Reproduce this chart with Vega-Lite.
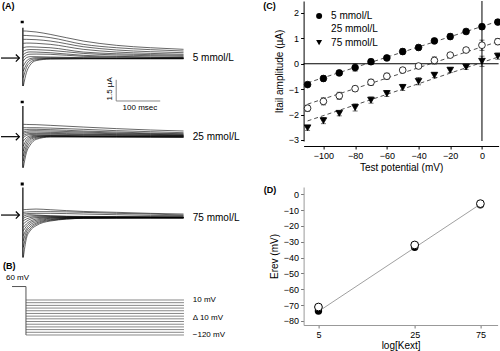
{
"$schema":"https://vega.github.io/schema/vega-lite/v6.json",
"padding":0,
"config":{"view":{"stroke":null},"font":"Liberation Sans","axis":{"grid":false,"labelColor":"black","titleColor":"black","titleFontWeight":"normal","labelFontSize":9,"titleFontSize":10,"tickCount":30},"text":{"color":"black"}},
"datasets":{
"tr":[
{"c":5,"k":1,"t":1,"i":-0.79},{"c":5,"k":1,"t":8,"i":-0.80},{"c":5,"k":1,"t":16,"i":-0.83},{"c":5,"k":1,"t":30,"i":-0.88},{"c":5,"k":1,"t":62,"i":-1.09},{"c":5,"k":1,"t":137,"i":-1.68},{"c":5,"k":1,"t":213,"i":-2.06},{"c":5,"k":1,"t":290,"i":-2.27},{"c":5,"k":1,"t":365,"i":-2.41},
{"c":5,"k":2,"t":1,"i":-1.18},{"c":5,"k":2,"t":8,"i":-1.19},{"c":5,"k":2,"t":16,"i":-1.21},{"c":5,"k":2,"t":30,"i":-1.24},{"c":5,"k":2,"t":62,"i":-1.38},{"c":5,"k":2,"t":137,"i":-1.97},{"c":5,"k":2,"t":213,"i":-2.27},{"c":5,"k":2,"t":290,"i":-2.44},{"c":5,"k":2,"t":365,"i":-2.56},
{"c":5,"k":3,"t":1,"i":-1.53},{"c":5,"k":3,"t":8,"i":-1.53},{"c":5,"k":3,"t":16,"i":-1.54},{"c":5,"k":3,"t":30,"i":-1.56},{"c":5,"k":3,"t":62,"i":-1.68},{"c":5,"k":3,"t":137,"i":-2.18},{"c":5,"k":3,"t":213,"i":-2.47},{"c":5,"k":3,"t":290,"i":-2.62},{"c":5,"k":3,"t":365,"i":-2.71},
{"c":5,"k":4,"t":1,"i":-1.88},{"c":5,"k":4,"t":8,"i":-1.86},{"c":5,"k":4,"t":16,"i":-1.86},{"c":5,"k":4,"t":30,"i":-1.88},{"c":5,"k":4,"t":62,"i":-1.97},{"c":5,"k":4,"t":137,"i":-2.41},{"c":5,"k":4,"t":213,"i":-2.65},{"c":5,"k":4,"t":290,"i":-2.77},{"c":5,"k":4,"t":365,"i":-2.85},
{"c":5,"k":5,"t":1,"i":-2.27},{"c":5,"k":5,"t":8,"i":-2.20},{"c":5,"k":5,"t":16,"i":-2.19},{"c":5,"k":5,"t":30,"i":-2.21},{"c":5,"k":5,"t":62,"i":-2.27},{"c":5,"k":5,"t":137,"i":-2.65},{"c":5,"k":5,"t":213,"i":-2.80},{"c":5,"k":5,"t":290,"i":-2.88},{"c":5,"k":5,"t":365,"i":-2.94},
{"c":5,"k":6,"t":1,"i":-2.59},{"c":5,"k":6,"t":8,"i":-2.46},{"c":5,"k":6,"t":16,"i":-2.43},{"c":5,"k":6,"t":30,"i":-2.44},{"c":5,"k":6,"t":62,"i":-2.50},{"c":5,"k":6,"t":137,"i":-2.77},{"c":5,"k":6,"t":213,"i":-2.91},{"c":5,"k":6,"t":290,"i":-2.97},{"c":5,"k":6,"t":365,"i":-3.03},
{"c":5,"k":7,"t":1,"i":-2.88},{"c":5,"k":7,"t":8,"i":-2.70},{"c":5,"k":7,"t":16,"i":-2.64},{"c":5,"k":7,"t":30,"i":-2.65},{"c":5,"k":7,"t":62,"i":-2.71},{"c":5,"k":7,"t":137,"i":-2.94},{"c":5,"k":7,"t":213,"i":-3.03},{"c":5,"k":7,"t":290,"i":-3.09},{"c":5,"k":7,"t":365,"i":-3.12},
{"c":5,"k":8,"t":1,"i":-3.15},{"c":5,"k":8,"t":8,"i":-2.92},{"c":5,"k":8,"t":16,"i":-2.84},{"c":5,"k":8,"t":30,"i":-2.83},{"c":5,"k":8,"t":62,"i":-2.85},{"c":5,"k":8,"t":137,"i":-3.03},{"c":5,"k":8,"t":213,"i":-3.09},{"c":5,"k":8,"t":290,"i":-3.12},{"c":5,"k":8,"t":365,"i":-3.15},
{"c":5,"k":9,"t":1,"i":-3.44},{"c":5,"k":9,"t":8,"i":-3.15},{"c":5,"k":9,"t":16,"i":-3.06},{"c":5,"k":9,"t":30,"i":-3.06},{"c":5,"k":9,"t":62,"i":-3.09},{"c":5,"k":9,"t":137,"i":-3.15},{"c":5,"k":9,"t":213,"i":-3.17},{"c":5,"k":9,"t":290,"i":-3.18},{"c":5,"k":9,"t":365,"i":-3.18},
{"c":5,"k":10,"t":1,"i":-3.88},{"c":5,"k":10,"t":8,"i":-3.44},{"c":5,"k":10,"t":16,"i":-3.24},{"c":5,"k":10,"t":30,"i":-3.15},{"c":5,"k":10,"t":62,"i":-3.15},{"c":5,"k":10,"t":137,"i":-3.18},{"c":5,"k":10,"t":213,"i":-3.20},{"c":5,"k":10,"t":290,"i":-3.21},{"c":5,"k":10,"t":365,"i":-3.21},
{"c":5,"k":11,"t":1,"i":-4.33},{"c":5,"k":11,"t":8,"i":-3.74},{"c":5,"k":11,"t":16,"i":-3.38},{"c":5,"k":11,"t":30,"i":-3.24},{"c":5,"k":11,"t":62,"i":-3.21},{"c":5,"k":11,"t":137,"i":-3.21},{"c":5,"k":11,"t":213,"i":-3.21},{"c":5,"k":11,"t":290,"i":-3.21},{"c":5,"k":11,"t":365,"i":-3.21},
{"c":5,"k":12,"t":1,"i":-4.91},{"c":5,"k":12,"t":8,"i":-4.03},{"c":5,"k":12,"t":16,"i":-3.59},{"c":5,"k":12,"t":30,"i":-3.33},{"c":5,"k":12,"t":62,"i":-3.24},{"c":5,"k":12,"t":137,"i":-3.24},{"c":5,"k":12,"t":213,"i":-3.24},{"c":5,"k":12,"t":290,"i":-3.24},{"c":5,"k":12,"t":365,"i":-3.24},
{"c":5,"k":13,"t":1,"i":-5.65},{"c":5,"k":13,"t":8,"i":-4.47},{"c":5,"k":13,"t":16,"i":-3.82},{"c":5,"k":13,"t":30,"i":-3.41},{"c":5,"k":13,"t":62,"i":-3.27},{"c":5,"k":13,"t":137,"i":-3.24},{"c":5,"k":13,"t":213,"i":-3.24},{"c":5,"k":13,"t":290,"i":-3.24},{"c":5,"k":13,"t":365,"i":-3.24},
{"c":25,"k":1,"t":1,"i":-1.97},{"c":25,"k":1,"t":8,"i":-1.98},{"c":25,"k":1,"t":16,"i":-1.99},{"c":25,"k":1,"t":30,"i":-2.00},{"c":25,"k":1,"t":62,"i":-2.06},{"c":25,"k":1,"t":137,"i":-2.21},{"c":25,"k":1,"t":213,"i":-2.35},{"c":25,"k":1,"t":290,"i":-2.47},{"c":25,"k":1,"t":365,"i":-2.56},
{"c":25,"k":2,"t":1,"i":-2.27},{"c":25,"k":2,"t":8,"i":-2.27},{"c":25,"k":2,"t":16,"i":-2.27},{"c":25,"k":2,"t":30,"i":-2.27},{"c":25,"k":2,"t":62,"i":-2.30},{"c":25,"k":2,"t":137,"i":-2.41},{"c":25,"k":2,"t":213,"i":-2.53},{"c":25,"k":2,"t":290,"i":-2.62},{"c":25,"k":2,"t":365,"i":-2.71},
{"c":25,"k":3,"t":1,"i":-2.47},{"c":25,"k":3,"t":8,"i":-2.43},{"c":25,"k":3,"t":16,"i":-2.41},{"c":25,"k":3,"t":30,"i":-2.41},{"c":25,"k":3,"t":62,"i":-2.44},{"c":25,"k":3,"t":137,"i":-2.56},{"c":25,"k":3,"t":213,"i":-2.65},{"c":25,"k":3,"t":290,"i":-2.74},{"c":25,"k":3,"t":365,"i":-2.80},
{"c":25,"k":4,"t":1,"i":-2.65},{"c":25,"k":4,"t":8,"i":-2.57},{"c":25,"k":4,"t":16,"i":-2.54},{"c":25,"k":4,"t":30,"i":-2.53},{"c":25,"k":4,"t":62,"i":-2.56},{"c":25,"k":4,"t":137,"i":-2.65},{"c":25,"k":4,"t":213,"i":-2.74},{"c":25,"k":4,"t":290,"i":-2.80},{"c":25,"k":4,"t":365,"i":-2.85},
{"c":25,"k":5,"t":1,"i":-2.77},{"c":25,"k":5,"t":8,"i":-2.69},{"c":25,"k":5,"t":16,"i":-2.66},{"c":25,"k":5,"t":30,"i":-2.65},{"c":25,"k":5,"t":62,"i":-2.68},{"c":25,"k":5,"t":137,"i":-2.74},{"c":25,"k":5,"t":213,"i":-2.80},{"c":25,"k":5,"t":290,"i":-2.85},{"c":25,"k":5,"t":365,"i":-2.91},
{"c":25,"k":6,"t":1,"i":-2.94},{"c":25,"k":6,"t":8,"i":-2.83},{"c":25,"k":6,"t":16,"i":-2.78},{"c":25,"k":6,"t":30,"i":-2.77},{"c":25,"k":6,"t":62,"i":-2.77},{"c":25,"k":6,"t":137,"i":-2.83},{"c":25,"k":6,"t":213,"i":-2.88},{"c":25,"k":6,"t":290,"i":-2.91},{"c":25,"k":6,"t":365,"i":-2.94},
{"c":25,"k":7,"t":1,"i":-3.15},{"c":25,"k":7,"t":8,"i":-2.95},{"c":25,"k":7,"t":16,"i":-2.88},{"c":25,"k":7,"t":30,"i":-2.85},{"c":25,"k":7,"t":62,"i":-2.85},{"c":25,"k":7,"t":137,"i":-2.88},{"c":25,"k":7,"t":213,"i":-2.91},{"c":25,"k":7,"t":290,"i":-2.94},{"c":25,"k":7,"t":365,"i":-2.97},
{"c":25,"k":8,"t":1,"i":-3.44},{"c":25,"k":8,"t":8,"i":-3.15},{"c":25,"k":8,"t":16,"i":-3.00},{"c":25,"k":8,"t":30,"i":-2.94},{"c":25,"k":8,"t":62,"i":-2.94},{"c":25,"k":8,"t":137,"i":-2.97},{"c":25,"k":8,"t":213,"i":-2.98},{"c":25,"k":8,"t":290,"i":-2.99},{"c":25,"k":8,"t":365,"i":-3.00},
{"c":25,"k":9,"t":1,"i":-3.88},{"c":25,"k":9,"t":8,"i":-3.35},{"c":25,"k":9,"t":16,"i":-3.12},{"c":25,"k":9,"t":30,"i":-3.00},{"c":25,"k":9,"t":62,"i":-2.97},{"c":25,"k":9,"t":137,"i":-3.00},{"c":25,"k":9,"t":213,"i":-3.01},{"c":25,"k":9,"t":290,"i":-3.02},{"c":25,"k":9,"t":365,"i":-3.03},
{"c":25,"k":10,"t":1,"i":-4.33},{"c":25,"k":10,"t":8,"i":-3.59},{"c":25,"k":10,"t":16,"i":-3.24},{"c":25,"k":10,"t":30,"i":-3.06},{"c":25,"k":10,"t":62,"i":-3.00},{"c":25,"k":10,"t":137,"i":-3.03},{"c":25,"k":10,"t":213,"i":-3.04},{"c":25,"k":10,"t":290,"i":-3.05},{"c":25,"k":10,"t":365,"i":-3.06},
{"c":25,"k":11,"t":1,"i":-4.77},{"c":25,"k":11,"t":8,"i":-3.88},{"c":25,"k":11,"t":16,"i":-3.38},{"c":25,"k":11,"t":30,"i":-3.12},{"c":25,"k":11,"t":62,"i":-3.03},{"c":25,"k":11,"t":137,"i":-3.06},{"c":25,"k":11,"t":213,"i":-3.07},{"c":25,"k":11,"t":290,"i":-3.08},{"c":25,"k":11,"t":365,"i":-3.09},
{"c":25,"k":12,"t":1,"i":-5.21},{"c":25,"k":12,"t":8,"i":-4.18},{"c":25,"k":12,"t":16,"i":-3.59},{"c":25,"k":12,"t":30,"i":-3.21},{"c":25,"k":12,"t":62,"i":-3.06},{"c":25,"k":12,"t":137,"i":-3.06},{"c":25,"k":12,"t":213,"i":-3.07},{"c":25,"k":12,"t":290,"i":-3.08},{"c":25,"k":12,"t":365,"i":-3.09},
{"c":25,"k":13,"t":1,"i":-5.80},{"c":25,"k":13,"t":8,"i":-4.47},{"c":25,"k":13,"t":16,"i":-3.83},{"c":25,"k":13,"t":30,"i":-3.30},{"c":25,"k":13,"t":62,"i":-3.09},{"c":25,"k":13,"t":137,"i":-3.09},{"c":25,"k":13,"t":213,"i":-3.10},{"c":25,"k":13,"t":290,"i":-3.11},{"c":25,"k":13,"t":365,"i":-3.12},
{"c":75,"k":1,"t":1,"i":-2.27},{"c":75,"k":1,"t":8,"i":-2.25},{"c":75,"k":1,"t":16,"i":-2.23},{"c":75,"k":1,"t":30,"i":-2.21},{"c":75,"k":1,"t":62,"i":-2.27},{"c":75,"k":1,"t":137,"i":-2.42},{"c":75,"k":1,"t":213,"i":-2.50},{"c":75,"k":1,"t":290,"i":-2.59},{"c":75,"k":1,"t":365,"i":-2.65},
{"c":75,"k":2,"t":1,"i":-2.50},{"c":75,"k":2,"t":8,"i":-2.47},{"c":75,"k":2,"t":16,"i":-2.45},{"c":75,"k":2,"t":30,"i":-2.44},{"c":75,"k":2,"t":62,"i":-2.44},{"c":75,"k":2,"t":137,"i":-2.50},{"c":75,"k":2,"t":213,"i":-2.59},{"c":75,"k":2,"t":290,"i":-2.65},{"c":75,"k":2,"t":365,"i":-2.74},
{"c":75,"k":3,"t":1,"i":-2.65},{"c":75,"k":3,"t":8,"i":-2.62},{"c":75,"k":3,"t":16,"i":-2.60},{"c":75,"k":3,"t":30,"i":-2.59},{"c":75,"k":3,"t":62,"i":-2.59},{"c":75,"k":3,"t":137,"i":-2.65},{"c":75,"k":3,"t":213,"i":-2.71},{"c":75,"k":3,"t":290,"i":-2.77},{"c":75,"k":3,"t":365,"i":-2.80},
{"c":75,"k":4,"t":1,"i":-2.86},{"c":75,"k":4,"t":8,"i":-2.74},{"c":75,"k":4,"t":16,"i":-2.71},{"c":75,"k":4,"t":30,"i":-2.74},{"c":75,"k":4,"t":62,"i":-2.80},{"c":75,"k":4,"t":137,"i":-2.86},{"c":75,"k":4,"t":213,"i":-2.87},{"c":75,"k":4,"t":290,"i":-2.88},{"c":75,"k":4,"t":365,"i":-2.89},
{"c":75,"k":5,"t":1,"i":-3.03},{"c":75,"k":5,"t":8,"i":-2.89},{"c":75,"k":5,"t":16,"i":-2.83},{"c":75,"k":5,"t":30,"i":-2.80},{"c":75,"k":5,"t":62,"i":-2.83},{"c":75,"k":5,"t":137,"i":-2.89},{"c":75,"k":5,"t":213,"i":-2.90},{"c":75,"k":5,"t":290,"i":-2.91},{"c":75,"k":5,"t":365,"i":-2.92},
{"c":75,"k":6,"t":1,"i":-3.24},{"c":75,"k":6,"t":8,"i":-3.09},{"c":75,"k":6,"t":16,"i":-2.97},{"c":75,"k":6,"t":30,"i":-2.89},{"c":75,"k":6,"t":62,"i":-2.89},{"c":75,"k":6,"t":137,"i":-2.92},{"c":75,"k":6,"t":213,"i":-2.93},{"c":75,"k":6,"t":290,"i":-2.94},{"c":75,"k":6,"t":365,"i":-2.94},
{"c":75,"k":7,"t":1,"i":-3.53},{"c":75,"k":7,"t":8,"i":-3.30},{"c":75,"k":7,"t":16,"i":-3.12},{"c":75,"k":7,"t":30,"i":-2.97},{"c":75,"k":7,"t":62,"i":-2.92},{"c":75,"k":7,"t":137,"i":-2.94},{"c":75,"k":7,"t":213,"i":-2.94},{"c":75,"k":7,"t":290,"i":-2.94},{"c":75,"k":7,"t":365,"i":-2.94},
{"c":75,"k":8,"t":1,"i":-3.83},{"c":75,"k":8,"t":8,"i":-3.53},{"c":75,"k":8,"t":16,"i":-3.30},{"c":75,"k":8,"t":30,"i":-3.09},{"c":75,"k":8,"t":62,"i":-2.97},{"c":75,"k":8,"t":137,"i":-2.94},{"c":75,"k":8,"t":213,"i":-2.95},{"c":75,"k":8,"t":290,"i":-2.96},{"c":75,"k":8,"t":365,"i":-2.97},
{"c":75,"k":9,"t":1,"i":-4.12},{"c":75,"k":9,"t":8,"i":-3.74},{"c":75,"k":9,"t":16,"i":-3.45},{"c":75,"k":9,"t":30,"i":-3.21},{"c":75,"k":9,"t":62,"i":-3.03},{"c":75,"k":9,"t":137,"i":-2.97},{"c":75,"k":9,"t":213,"i":-2.97},{"c":75,"k":9,"t":290,"i":-2.97},{"c":75,"k":9,"t":365,"i":-2.97},
{"c":75,"k":10,"t":1,"i":-4.56},{"c":75,"k":10,"t":8,"i":-3.98},{"c":75,"k":10,"t":16,"i":-3.62},{"c":75,"k":10,"t":30,"i":-3.33},{"c":75,"k":10,"t":62,"i":-3.09},{"c":75,"k":10,"t":137,"i":-3.00},{"c":75,"k":10,"t":213,"i":-2.98},{"c":75,"k":10,"t":290,"i":-2.97},{"c":75,"k":10,"t":365,"i":-2.97},
{"c":75,"k":11,"t":1,"i":-5.01},{"c":75,"k":11,"t":8,"i":-4.21},{"c":75,"k":11,"t":16,"i":-3.80},{"c":75,"k":11,"t":30,"i":-3.45},{"c":75,"k":11,"t":62,"i":-3.15},{"c":75,"k":11,"t":137,"i":-3.00},{"c":75,"k":11,"t":213,"i":-3.00},{"c":75,"k":11,"t":290,"i":-3.00},{"c":75,"k":11,"t":365,"i":-3.00},
{"c":75,"k":12,"t":1,"i":-5.59},{"c":75,"k":12,"t":8,"i":-4.50},{"c":75,"k":12,"t":16,"i":-3.98},{"c":75,"k":12,"t":30,"i":-3.56},{"c":75,"k":12,"t":62,"i":-3.21},{"c":75,"k":12,"t":137,"i":-3.03},{"c":75,"k":12,"t":213,"i":-3.01},{"c":75,"k":12,"t":290,"i":-3.00},{"c":75,"k":12,"t":365,"i":-3.00},
{"c":75,"k":13,"t":1,"i":-6.48},{"c":75,"k":13,"t":8,"i":-4.80},{"c":75,"k":13,"t":16,"i":-4.15},{"c":75,"k":13,"t":30,"i":-3.68},{"c":75,"k":13,"t":62,"i":-3.27},{"c":75,"k":13,"t":137,"i":-3.03},{"c":75,"k":13,"t":213,"i":-3.01},{"c":75,"k":13,"t":290,"i":-3.00},{"c":75,"k":13,"t":365,"i":-3.00}
],
"ap":[
{"c":5,"lab":"5 mmol/L","s1":-0.5,"s2":-5.65,"ss":-3.18},
{"c":25,"lab":"25 mmol/L","s1":-0.35,"s2":-5.8,"ss":-3.06},
{"c":75,"lab":"75 mmol/L","s1":-0.3,"s2":-6.48,"ss":-2.74}
],
"iv":[
{"c":"5 mmol/L","v":-110,"y":-0.82,"e":0.08},{"c":"5 mmol/L","v":-100,"y":-0.58,"e":0.12},{"c":"5 mmol/L","v":-90,"y":-0.36,"e":0.1},{"c":"5 mmol/L","v":-80,"y":-0.15,"e":0.14},{"c":"5 mmol/L","v":-70,"y":0.08,"e":0.1},{"c":"5 mmol/L","v":-60,"y":0.23,"e":0.08},{"c":"5 mmol/L","v":-50,"y":0.48,"e":0.12},{"c":"5 mmol/L","v":-40,"y":0.64,"e":0.1},{"c":"5 mmol/L","v":-30,"y":0.90,"e":0.08},{"c":"5 mmol/L","v":-20,"y":1.07,"e":0.12},{"c":"5 mmol/L","v":-10,"y":1.27,"e":0.1},{"c":"5 mmol/L","v":0,"y":1.46,"e":0.1},{"c":"5 mmol/L","v":10,"y":1.64,"e":0.1},
{"c":"25 mmol/L","v":-110,"y":-1.75,"e":0.12},{"c":"25 mmol/L","v":-100,"y":-1.48,"e":0.14},{"c":"25 mmol/L","v":-90,"y":-1.26,"e":0.14},{"c":"25 mmol/L","v":-80,"y":-0.98,"e":0.1},{"c":"25 mmol/L","v":-70,"y":-0.73,"e":0.12},{"c":"25 mmol/L","v":-60,"y":-0.49,"e":0.12},{"c":"25 mmol/L","v":-50,"y":-0.25,"e":0.1},{"c":"25 mmol/L","v":-40,"y":-0.09,"e":0.1},{"c":"25 mmol/L","v":-30,"y":0.13,"e":0.14},{"c":"25 mmol/L","v":-20,"y":0.34,"e":0.08},{"c":"25 mmol/L","v":-10,"y":0.54,"e":0.08},{"c":"25 mmol/L","v":0,"y":0.73,"e":0.2},{"c":"25 mmol/L","v":10,"y":0.87,"e":0.12},
{"c":"75 mmol/L","v":-110,"y":-2.52,"e":0.1},{"c":"75 mmol/L","v":-100,"y":-2.24,"e":0.12},{"c":"75 mmol/L","v":-90,"y":-1.95,"e":0.1},{"c":"75 mmol/L","v":-80,"y":-1.72,"e":0.14},{"c":"75 mmol/L","v":-70,"y":-1.43,"e":0.12},{"c":"75 mmol/L","v":-60,"y":-1.17,"e":0.12},{"c":"75 mmol/L","v":-50,"y":-0.93,"e":0.12},{"c":"75 mmol/L","v":-40,"y":-0.69,"e":0.14},{"c":"75 mmol/L","v":-30,"y":-0.45,"e":0.1},{"c":"75 mmol/L","v":-20,"y":-0.25,"e":0.1},{"c":"75 mmol/L","v":-10,"y":-0.13,"e":0.1},{"c":"75 mmol/L","v":0,"y":0.10,"e":0.2},{"c":"75 mmol/L","v":10,"y":0.30,"e":0.12}
],
"fit":[
{"c":"5 mmol/L","v":-110,"y":-0.75},{"c":"5 mmol/L","v":10,"y":1.67},
{"c":"25 mmol/L","v":-110,"y":-1.59},{"c":"25 mmol/L","v":10,"y":0.87},
{"c":"75 mmol/L","v":-110,"y":-2.25},{"c":"75 mmol/L","v":10,"y":0.26}
],
"erev":[
{"k":5,"e":-73.7,"s":"a"},{"k":25,"e":-33.5,"s":"a"},{"k":75,"e":-6.6,"s":"a"},
{"k":5,"e":-71.2,"s":"b"},{"k":25,"e":-32.0,"s":"b"},{"k":75,"e":-5.9,"s":"b"}
],
"efit":[{"k":5,"e":-74.0},{"k":75,"e":-6.2}]
},
"hconcat":[
{"vconcat":[
 {"width":250,"height":95,"layer":[
  {"data":{"name":"tr"},"transform":[{"filter":"datum.c==5"}],"mark":{"type":"line","interpolate":"monotone","color":"black","strokeWidth":0.6},
   "encoding":{"x":{"field":"t","type":"quantitative","scale":{"domain":[-52,516],"nice":false,"zero":false},"axis":null},
    "y":{"field":"i","type":"quantitative","scale":{"domain":[-6.529,1.853],"nice":false,"zero":false},"axis":null},
    "detail":{"field":"k","type":"nominal"}}},
  {"data":{"name":"ap"},"transform":[{"filter":"datum.c==5"}],"layer":[
   {"mark":{"type":"rule","color":"black","strokeWidth":1.2},"encoding":{"x":{"datum":0,"type":"quantitative","axis":null},"y":{"field":"s1","type":"quantitative","axis":null},"y2":{"field":"s2"}}},
   {"mark":{"type":"rule","color":"black","strokeWidth":2.5},"encoding":{"x":{"datum":-5,"type":"quantitative","axis":null},"x2":{"datum":2},"y":{"datum":0,"type":"quantitative","axis":null}}},
   {"mark":{"type":"rule","color":"black","strokeWidth":1.2},"encoding":{"x":{"datum":-49.7,"type":"quantitative","axis":null},"x2":{"datum":-8},"y":{"field":"ss","type":"quantitative","axis":null}}},
   {"mark":{"type":"point","shape":"M -1 -1 L 0 0 L -1 1","filled":false,"color":"black","strokeWidth":1.2,"size":50,"opacity":1},"encoding":{"x":{"datum":-8,"type":"quantitative","axis":null},"y":{"field":"ss","type":"quantitative","axis":null}}},
   {"mark":{"type":"text","align":"left","baseline":"middle","fontSize":10},"encoding":{"x":{"datum":386,"type":"quantitative","axis":null},"y":{"field":"ss","type":"quantitative","axis":null},"text":{"field":"lab"}}}
  ]},
  {"data":{"values":[{"ua":"1.5 µA","ms":"100 msec","p":"(A)"}]},"layer":[
   {"mark":{"type":"rule","color":"#888","strokeWidth":1},"encoding":{"x":{"datum":212,"type":"quantitative","axis":null},"y":{"datum":-5.1,"type":"quantitative","axis":null},"y2":{"datum":-6.97}}},
   {"mark":{"type":"rule","color":"#888","strokeWidth":1},"encoding":{"x":{"datum":212,"type":"quantitative","axis":null},"x2":{"datum":312},"y":{"datum":-6.97,"type":"quantitative","axis":null}}},
   {"mark":{"type":"text","angle":270,"align":"center","baseline":"middle","fontSize":8},"encoding":{"x":{"datum":198,"type":"quantitative","axis":null},"y":{"datum":-5.9,"type":"quantitative","axis":null},"text":{"field":"ua"}}},
   {"mark":{"type":"text","align":"center","baseline":"middle","fontSize":8},"encoding":{"x":{"datum":266,"type":"quantitative","axis":null},"y":{"datum":-7.6,"type":"quantitative","axis":null},"text":{"field":"ms"}}},
   {"mark":{"type":"text","align":"left","baseline":"middle","fontSize":9,"fontWeight":"bold"},"encoding":{"x":{"datum":-47.5,"type":"quantitative","axis":null},"y":{"datum":1.41,"type":"quantitative","axis":null},"text":{"field":"p"}}}
  ]}
 ]},
 {"width":250,"height":82,"layer":[
  {"data":{"name":"tr"},"transform":[{"filter":"datum.c==25"}],"mark":{"type":"line","interpolate":"monotone","color":"black","strokeWidth":0.6},
   "encoding":{"x":{"field":"t","type":"quantitative","scale":{"domain":[-52,516],"nice":false,"zero":false},"axis":null},
    "y":{"field":"i","type":"quantitative","scale":{"domain":[-6.706,0.529],"nice":false,"zero":false},"axis":null},
    "detail":{"field":"k","type":"nominal"}}},
  {"data":{"name":"ap"},"transform":[{"filter":"datum.c==25"}],"layer":[
   {"mark":{"type":"rule","color":"black","strokeWidth":1.2},"encoding":{"x":{"datum":0,"type":"quantitative","axis":null},"y":{"field":"s1","type":"quantitative","axis":null},"y2":{"field":"s2"}}},
   {"mark":{"type":"rule","color":"black","strokeWidth":2.5},"encoding":{"x":{"datum":-5,"type":"quantitative","axis":null},"x2":{"datum":2},"y":{"datum":0,"type":"quantitative","axis":null}}},
   {"mark":{"type":"rule","color":"black","strokeWidth":1.2},"encoding":{"x":{"datum":-49.7,"type":"quantitative","axis":null},"x2":{"datum":-8},"y":{"field":"ss","type":"quantitative","axis":null}}},
   {"mark":{"type":"point","shape":"M -1 -1 L 0 0 L -1 1","filled":false,"color":"black","strokeWidth":1.2,"size":50,"opacity":1},"encoding":{"x":{"datum":-8,"type":"quantitative","axis":null},"y":{"field":"ss","type":"quantitative","axis":null}}},
   {"mark":{"type":"text","align":"left","baseline":"middle","fontSize":10},"encoding":{"x":{"datum":386,"type":"quantitative","axis":null},"y":{"field":"ss","type":"quantitative","axis":null},"text":{"field":"lab"}}}
  ]}
 ]},
 {"width":250,"height":81,"layer":[
  {"data":{"name":"tr"},"transform":[{"filter":"datum.c==75"}],"mark":{"type":"line","interpolate":"monotone","color":"black","strokeWidth":0.6},
   "encoding":{"x":{"field":"t","type":"quantitative","scale":{"domain":[-52,516],"nice":false,"zero":false},"axis":null},
    "y":{"field":"i","type":"quantitative","scale":{"domain":[-6.618,0.529],"nice":false,"zero":false},"axis":null},
    "detail":{"field":"k","type":"nominal"}}},
  {"data":{"name":"ap"},"transform":[{"filter":"datum.c==75"}],"layer":[
   {"mark":{"type":"rule","color":"black","strokeWidth":1.2},"encoding":{"x":{"datum":0,"type":"quantitative","axis":null},"y":{"field":"s1","type":"quantitative","axis":null},"y2":{"field":"s2"}}},
   {"mark":{"type":"rule","color":"black","strokeWidth":3},"encoding":{"x":{"datum":-5,"type":"quantitative","axis":null},"x2":{"datum":2},"y":{"datum":0,"type":"quantitative","axis":null}}},
   {"mark":{"type":"rule","color":"black","strokeWidth":1.2},"encoding":{"x":{"datum":-49.7,"type":"quantitative","axis":null},"x2":{"datum":-8},"y":{"field":"ss","type":"quantitative","axis":null}}},
   {"mark":{"type":"point","shape":"M -1 -1 L 0 0 L -1 1","filled":false,"color":"black","strokeWidth":1.2,"size":50,"opacity":1},"encoding":{"x":{"datum":-8,"type":"quantitative","axis":null},"y":{"field":"ss","type":"quantitative","axis":null}}},
   {"mark":{"type":"text","align":"left","baseline":"middle","fontSize":10,"dy":3},"encoding":{"x":{"datum":386,"type":"quantitative","axis":null},"y":{"field":"ss","type":"quantitative","axis":null},"text":{"field":"lab"}}}
  ]}
 ]},
 {"width":250,"height":93,"layer":[
  {"data":{"values":[{"v":10},{"v":0},{"v":-10},{"v":-20},{"v":-30},{"v":-40},{"v":-50},{"v":-60},{"v":-70},{"v":-80},{"v":-90},{"v":-100},{"v":-110},{"v":-120}]},
   "mark":{"type":"rule","color":"#888","strokeWidth":1},
   "encoding":{"x":{"datum":7,"type":"quantitative","scale":{"domain":[-52,516],"nice":false,"zero":false},"axis":null},"x2":{"datum":366},
    "y":{"field":"v","type":"quantitative","scale":{"domain":[-183.2,162.3],"nice":false,"zero":false},"axis":null}}},
  {"data":{"values":[{"hold":60,"step":-120,"lab":"60 mV","p":"(B)"}]},"layer":[
   {"mark":{"type":"rule","color":"#555","strokeWidth":1},"encoding":{"x":{"datum":-24.7,"type":"quantitative","axis":null},"x2":{"datum":7},"y":{"field":"hold","type":"quantitative","axis":null}}},
   {"mark":{"type":"rule","color":"#555","strokeWidth":1},"encoding":{"x":{"datum":7,"type":"quantitative","axis":null},"y":{"field":"hold","type":"quantitative","axis":null},"y2":{"field":"step"}}},
   {"mark":{"type":"text","align":"left","baseline":"middle","fontSize":8,"dy":-9},"encoding":{"x":{"datum":-38.4,"type":"quantitative","axis":null},"y":{"field":"hold","type":"quantitative","axis":null},"text":{"field":"lab"}}},
   {"mark":{"type":"text","align":"left","baseline":"middle","fontSize":9,"fontWeight":"bold"},"encoding":{"x":{"datum":-45,"type":"quantitative","axis":null},"y":{"datum":136,"type":"quantitative","axis":null},"text":{"field":"p"}}}
  ]},
  {"data":{"values":[{"v":10,"txt":"10 mV"},{"v":-57,"txt":"Δ 10 mV"},{"v":-120,"txt":"−120 mV"}]},
   "mark":{"type":"text","align":"left","baseline":"middle","fontSize":8},
   "encoding":{"x":{"datum":386,"type":"quantitative","axis":null},"y":{"field":"v","type":"quantitative","axis":null},"text":{"field":"txt"}}}
 ]}
],"spacing":0,"bounds":"flush"},
{"vconcat":[
 {"width":195,"height":140,"layer":[
  {"data":{"values":[{"ref":0,"p":"(C)"}]},"layer":[
   {"mark":{"type":"rule","color":"black","strokeWidth":1},"encoding":{"y":{"datum":0,"type":"quantitative","scale":{"domain":[-3.04,2.47],"nice":false,"zero":false},"axis":{"values":[-3,-2,-1,0,1,2],"format":"d","title":"Itail amplitude (µA)","tickSize":3,"domainColor":"black","tickColor":"black","titlePadding":4,"labelPadding":2}}}},
   {"mark":{"type":"rule","color":"black","strokeWidth":1},"encoding":{"x":{"datum":0,"type":"quantitative","scale":{"domain":[-112.5,10.5],"nice":false,"zero":false},"axis":{"values":[-100,-80,-60,-40,-20,0],"format":"d","title":"Test potential (mV)","offset":5,"tickSize":3,"domainColor":"black","tickColor":"black","titlePadding":2,"labelPadding":2}}}},
   {"mark":{"type":"text","align":"left","baseline":"middle","fontSize":9,"fontWeight":"bold"},"encoding":{"x":{"datum":-138,"type":"quantitative"},"y":{"datum":2.27,"type":"quantitative"},"text":{"field":"p"}}}
  ]},
  {"data":{"name":"fit"},"mark":{"type":"line","strokeDash":[4,3],"color":"#222","strokeWidth":0.8},
   "encoding":{"x":{"field":"v","type":"quantitative","axis":{"values":[-100,-80,-60,-40,-20,0],"format":"d","title":"Test potential (mV)","offset":5,"tickSize":3,"domainColor":"black","tickColor":"black","titlePadding":2,"labelPadding":2}},
    "y":{"field":"y","type":"quantitative","axis":{"values":[-3,-2,-1,0,1,2],"format":"d","title":"Itail amplitude (µA)","tickSize":3,"domainColor":"black","tickColor":"black","titlePadding":4,"labelPadding":2}},
    "detail":{"field":"c","type":"nominal"}}},
  {"data":{"name":"iv"},"mark":{"type":"errorbar","ticks":true,"size":5,"thickness":0.8,"color":"black"},
   "encoding":{"x":{"field":"v","type":"quantitative","axis":{"values":[-100,-80,-60,-40,-20,0],"format":"d","title":"Test potential (mV)","offset":5,"tickSize":3,"domainColor":"black","tickColor":"black","titlePadding":2,"labelPadding":2}},
    "y":{"field":"y","type":"quantitative","axis":{"values":[-3,-2,-1,0,1,2],"format":"d","title":"Itail amplitude (µA)","tickSize":3,"domainColor":"black","tickColor":"black","titlePadding":4,"labelPadding":2}},
    "yError":{"field":"e"}}},
  {"data":{"name":"iv"},"mark":{"type":"point","filled":true,"stroke":"black","strokeWidth":0.8,"size":45,"opacity":1},
   "encoding":{"x":{"field":"v","type":"quantitative","axis":{"values":[-100,-80,-60,-40,-20,0],"format":"d","title":"Test potential (mV)","offset":5,"tickSize":3,"domainColor":"black","tickColor":"black","titlePadding":2,"labelPadding":2}},
    "y":{"field":"y","type":"quantitative","axis":{"values":[-3,-2,-1,0,1,2],"format":"d","title":"Itail amplitude (µA)","tickSize":3,"domainColor":"black","tickColor":"black","titlePadding":4,"labelPadding":2}},
    "fill":{"field":"c","type":"nominal","scale":{"domain":["5 mmol/L","25 mmol/L","75 mmol/L"],"range":["black","white","black"]},"legend":{"title":null,"orient":"none","legendX":10.5,"legendY":10,"labelFontSize":10,"symbolSize":36,"symbolStrokeWidth":0.8,"symbolStrokeColor":"black","symbolOpacity":1,"rowPadding":3.3,"labelOffset":7,"padding":0}},
    "shape":{"field":"c","type":"nominal","scale":{"domain":["5 mmol/L","25 mmol/L","75 mmol/L"],"range":["circle","circle","triangle-down"]},"legend":{"title":null,"orient":"none","legendX":10.5,"legendY":10,"labelFontSize":10,"symbolSize":36,"symbolStrokeWidth":0.8,"symbolStrokeColor":"black","symbolOpacity":1,"rowPadding":3.3,"labelOffset":7,"padding":0}}}}
 ]},
 {"width":194,"height":138,"layer":[
  {"data":{"name":"efit"},"mark":{"type":"line","color":"#888","strokeWidth":0.8},
   "encoding":{"x":{"field":"k","type":"quantitative","scale":{"type":"log","domain":[3.9,100],"nice":false},"axis":{"values":[5,25,75],"format":"d","title":"log[Kext]","tickSize":3,"domainColor":"#999","tickColor":"#777","titlePadding":1,"labelPadding":2}},
    "y":{"field":"e","type":"quantitative","scale":{"domain":[-82.57,4.61],"nice":false,"zero":false},"axis":{"values":[-80,-70,-60,-50,-40,-30,-20,-10,0],"title":"Erev (mV)","tickSize":3,"domainColor":"#999","tickColor":"#777","titlePadding":4,"labelPadding":2}}}},
  {"data":{"name":"erev"},"transform":[{"filter":"datum.s=='a'"}],"mark":{"type":"point","filled":true,"color":"black","size":55,"opacity":1},
   "encoding":{"x":{"field":"k","type":"quantitative","axis":{"values":[5,25,75],"format":"d","title":"log[Kext]","tickSize":3,"domainColor":"#999","tickColor":"#777","titlePadding":1,"labelPadding":2}},
    "y":{"field":"e","type":"quantitative","axis":{"values":[-80,-70,-60,-50,-40,-30,-20,-10,0],"title":"Erev (mV)","tickSize":3,"domainColor":"#999","tickColor":"#777","titlePadding":4,"labelPadding":2}}}},
  {"data":{"name":"erev"},"transform":[{"filter":"datum.s=='b'"}],"mark":{"type":"point","filled":true,"fill":"white","stroke":"black","strokeWidth":1,"size":60,"opacity":1},
   "encoding":{"x":{"field":"k","type":"quantitative","axis":{"values":[5,25,75],"format":"d","title":"log[Kext]","tickSize":3,"domainColor":"#999","tickColor":"#777","titlePadding":1,"labelPadding":2}},
    "y":{"field":"e","type":"quantitative","axis":{"values":[-80,-70,-60,-50,-40,-30,-20,-10,0],"title":"Erev (mV)","tickSize":3,"domainColor":"#999","tickColor":"#777","titlePadding":4,"labelPadding":2}}}},
  {"data":{"values":[{"p":"(D)"}]},"mark":{"type":"text","align":"left","baseline":"middle","fontSize":9,"fontWeight":"bold"},
   "encoding":{"x":{"datum":2.0,"type":"quantitative"},"y":{"datum":3.0,"type":"quantitative"},"text":{"field":"p"}}}
 ]}
],"spacing":46,"bounds":"flush","resolve":{"scale":{"fill":"independent","shape":"independent"},"legend":{"fill":"independent","shape":"independent"}}}
],
"spacing":12.6,
"resolve":{"scale":{"fill":"independent","shape":"independent"},"legend":{"fill":"independent","shape":"independent"}}
}
